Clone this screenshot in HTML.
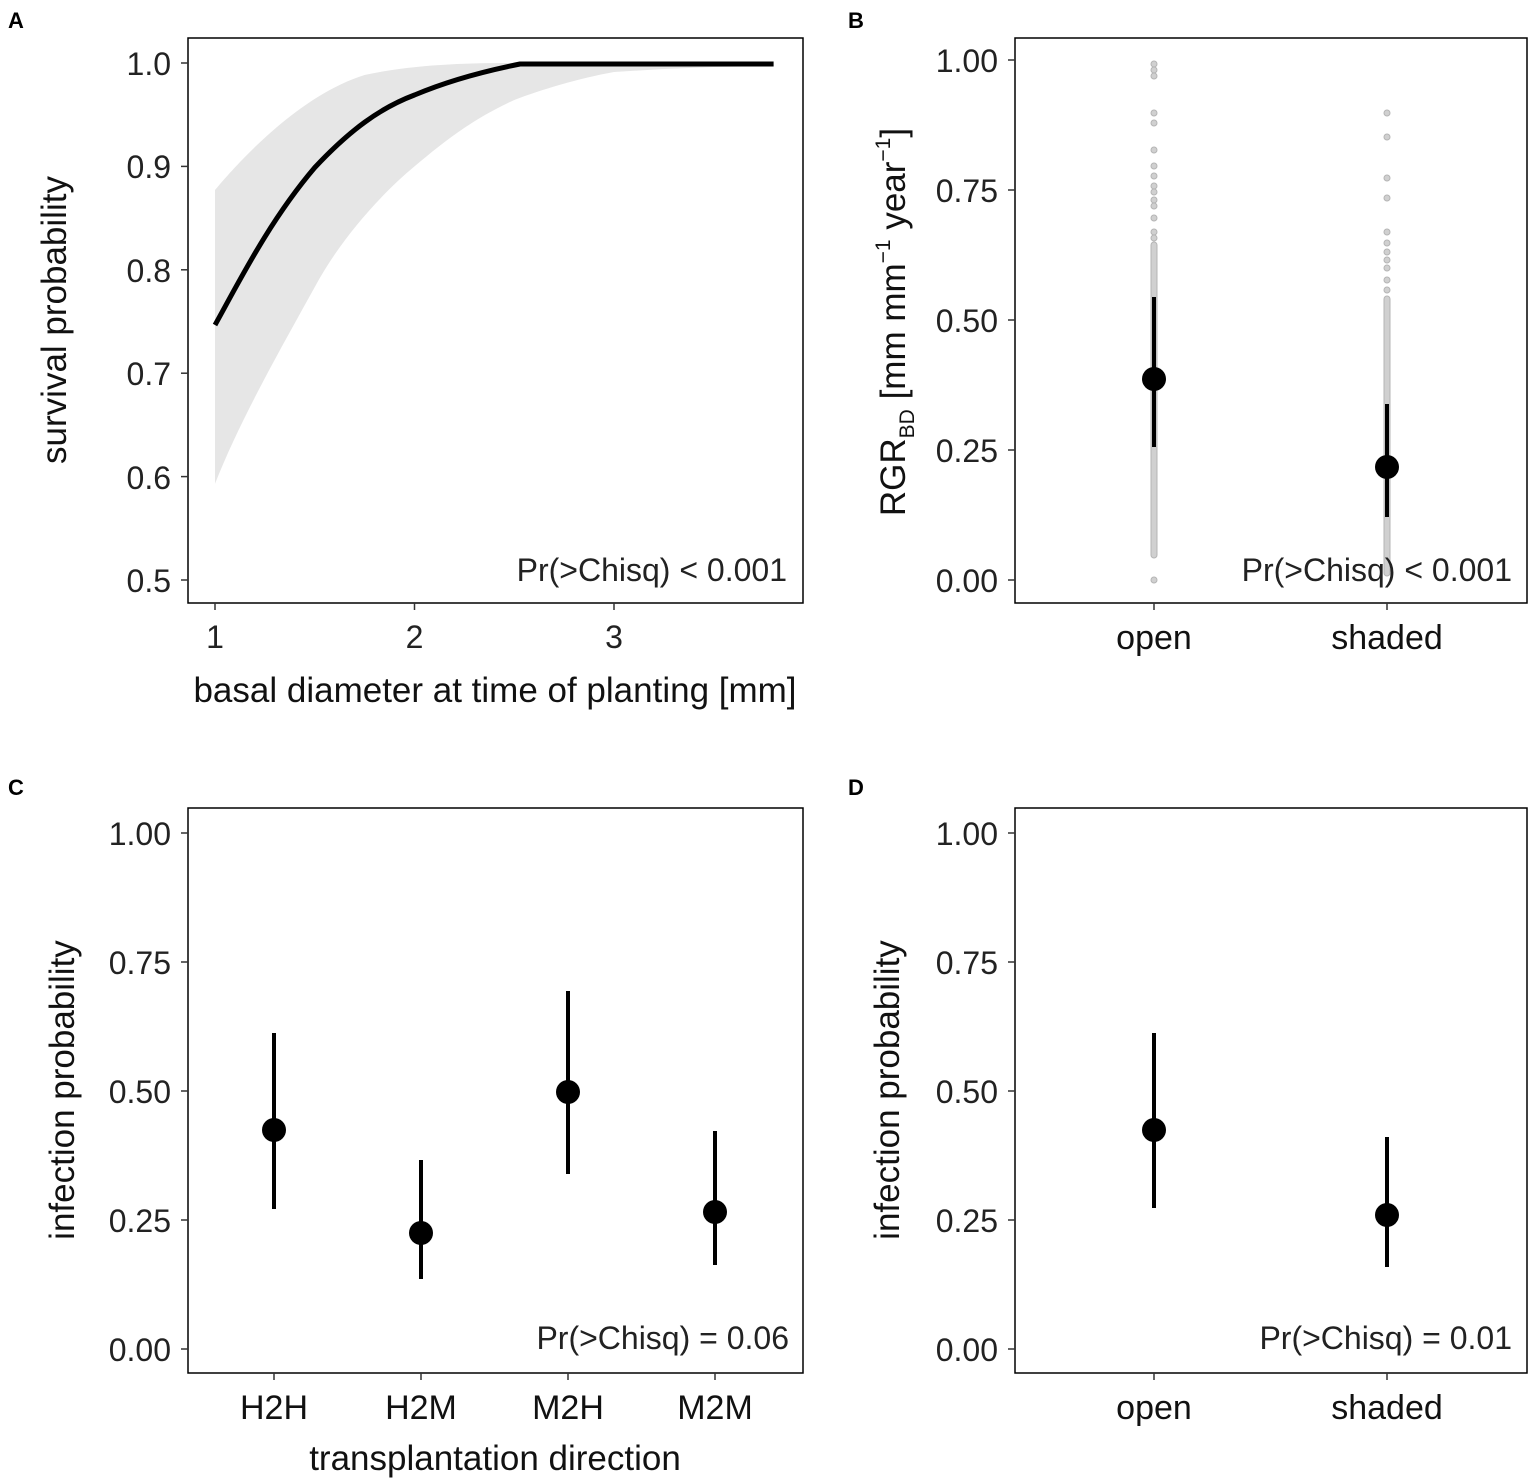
<!DOCTYPE html>
<html><head><meta charset="utf-8"><style>
html,body{margin:0;padding:0;background:#fff;}
svg{display:block;font-family:"Liberation Sans",Arial,sans-serif;}
.t{font-size:32px;fill:#222;}
.c{font-size:34px;fill:#111;}
.ti{font-size:35px;fill:#111;}
.L{font-size:22px;font-weight:bold;fill:#000;}
</style></head><body>
<svg width="1535" height="1483" viewBox="0 0 1535 1483" xmlns="http://www.w3.org/2000/svg">
<rect width="1535" height="1483" fill="#fff"/>
<text class="L" x="8" y="28">A</text>
<text class="L" x="848" y="28">B</text>
<text class="L" x="8" y="795">C</text>
<text class="L" x="848" y="795">D</text>

<!-- Panel A -->
<path d="M215,190 C240,160 300,95 364.6,75 C420,63 480,63 520,63 L773.6,63 L773.6,66 L713.8,67 L663.9,69 L614,72 C580,78 540,90 514.3,100 C470,120 440,145 414.5,166.4 C380,195 340,240 314.8,287 C280,350 240,420 215,483.8 Z" fill="#e6e6e6"/>
<path d="M215,325 C240,280 270,220 314.8,167.5 C350,130 380,108 414.5,95 C450,80 490,70 520,64 L773.6,64" fill="none" stroke="#000" stroke-width="5"/>
<rect x="188" y="38" width="615" height="565" fill="none" stroke="#000" stroke-width="1.5"/>
<g stroke="#333" stroke-width="1.5">
<line x1="181" x2="188" y1="63" y2="63"/><line x1="181" x2="188" y1="166.4" y2="166.4"/><line x1="181" x2="188" y1="269.8" y2="269.8"/><line x1="181" x2="188" y1="373.2" y2="373.2"/><line x1="181" x2="188" y1="476.6" y2="476.6"/><line x1="181" x2="188" y1="580" y2="580"/>
<line x1="215" x2="215" y1="603" y2="610"/><line x1="414.5" x2="414.5" y1="603" y2="610"/><line x1="614" x2="614" y1="603" y2="610"/>
</g>
<g class="t" text-anchor="end">
<text x="171" y="75">1.0</text><text x="171" y="178">0.9</text><text x="171" y="282">0.8</text><text x="171" y="385">0.7</text><text x="171" y="489">0.6</text><text x="171" y="592">0.5</text>
</g>
<g class="t" text-anchor="middle"><text x="215" y="648">1</text><text x="414.5" y="648">2</text><text x="614" y="648">3</text></g>
<text class="t" x="787" y="581" text-anchor="end">Pr(&gt;Chisq) &lt; 0.001</text>
<text class="ti" x="495" y="702" text-anchor="middle">basal diameter at time of planting [mm]</text>
<text class="ti" transform="translate(66,320) rotate(-90)" text-anchor="middle">survival probability</text>

<!-- Panel B -->
<g fill="#d0d0d0" stroke="#b5b5b5" stroke-width="1">
<rect x="1151" y="242" width="6" height="316" rx="3"/>
<rect x="1384" y="296" width="6" height="280" rx="3"/>
<circle cx="1154" cy="580" r="3"/><circle cx="1154" cy="76" r="3"/><circle cx="1154" cy="70" r="3"/><circle cx="1154" cy="64" r="3"/>
<circle cx="1154" cy="113" r="3"/><circle cx="1154" cy="123" r="3"/><circle cx="1154" cy="150" r="3"/><circle cx="1154" cy="166" r="3"/><circle cx="1154" cy="176" r="3"/><circle cx="1154" cy="186" r="3"/><circle cx="1154" cy="192" r="3"/><circle cx="1154" cy="200" r="3"/><circle cx="1154" cy="206" r="3"/><circle cx="1154" cy="218" r="3"/><circle cx="1154" cy="232" r="3"/><circle cx="1154" cy="238" r="3"/>
<circle cx="1387" cy="113" r="3"/><circle cx="1387" cy="137" r="3"/><circle cx="1387" cy="178" r="3"/><circle cx="1387" cy="198" r="3"/><circle cx="1387" cy="232" r="3"/><circle cx="1387" cy="243" r="3"/><circle cx="1387" cy="252" r="3"/><circle cx="1387" cy="260" r="3"/><circle cx="1387" cy="268" r="3"/><circle cx="1387" cy="280" r="3"/><circle cx="1387" cy="290" r="3"/>
</g>
<line x1="1154" x2="1154" y1="297" y2="447" stroke="#000" stroke-width="4"/>
<circle cx="1154" cy="379" r="12" fill="#000"/>
<line x1="1387" x2="1387" y1="404" y2="517" stroke="#000" stroke-width="4"/>
<circle cx="1387" cy="467" r="12" fill="#000"/>
<rect x="1015" y="38" width="512" height="565" fill="none" stroke="#000" stroke-width="1.5"/>
<g stroke="#333" stroke-width="1.5">
<line x1="1008" x2="1015" y1="60" y2="60"/><line x1="1008" x2="1015" y1="190" y2="190"/><line x1="1008" x2="1015" y1="320" y2="320"/><line x1="1008" x2="1015" y1="450" y2="450"/><line x1="1008" x2="1015" y1="580" y2="580"/>
<line x1="1154" x2="1154" y1="603" y2="610"/><line x1="1387" x2="1387" y1="603" y2="610"/>
</g>
<g class="t" text-anchor="end">
<text x="998" y="72">1.00</text><text x="998" y="202">0.75</text><text x="998" y="332">0.50</text><text x="998" y="462">0.25</text><text x="998" y="592">0.00</text>
</g>
<g class="c" text-anchor="middle"><text x="1154" y="649">open</text><text x="1387" y="649">shaded</text></g>
<text class="t" x="1512" y="581" text-anchor="end">Pr(&gt;Chisq) &lt; 0.001</text>
<text class="ti" transform="translate(905,322) rotate(-90)" text-anchor="middle">RGR<tspan font-size="21" dy="9">BD</tspan><tspan dy="-9"> [mm mm</tspan><tspan font-size="21" dy="-15">−1</tspan><tspan dy="15"> year</tspan><tspan font-size="21" dy="-15">−1</tspan><tspan dy="15">]</tspan></text>

<!-- Panel C -->
<g stroke="#000" stroke-width="4">
<line x1="274" x2="274" y1="1033" y2="1209"/><line x1="421" x2="421" y1="1160" y2="1279"/><line x1="568" x2="568" y1="991" y2="1174"/><line x1="715" x2="715" y1="1131" y2="1265"/>
</g>
<g fill="#000"><circle cx="274" cy="1130" r="12"/><circle cx="421" cy="1233" r="12"/><circle cx="568" cy="1092" r="12"/><circle cx="715" cy="1212" r="12"/></g>
<rect x="188" y="808" width="615" height="565" fill="none" stroke="#000" stroke-width="1.5"/>
<g stroke="#333" stroke-width="1.5">
<line x1="181" x2="188" y1="833" y2="833"/><line x1="181" x2="188" y1="962" y2="962"/><line x1="181" x2="188" y1="1091" y2="1091"/><line x1="181" x2="188" y1="1220" y2="1220"/><line x1="181" x2="188" y1="1349" y2="1349"/>
<line x1="274" x2="274" y1="1373" y2="1380"/><line x1="421" x2="421" y1="1373" y2="1380"/><line x1="568" x2="568" y1="1373" y2="1380"/><line x1="715" x2="715" y1="1373" y2="1380"/>
</g>
<g class="t" text-anchor="end">
<text x="171" y="845">1.00</text><text x="171" y="974">0.75</text><text x="171" y="1103">0.50</text><text x="171" y="1232">0.25</text><text x="171" y="1361">0.00</text>
</g>
<g class="c" text-anchor="middle"><text x="274" y="1419">H2H</text><text x="421" y="1419">H2M</text><text x="568" y="1419">M2H</text><text x="715" y="1419">M2M</text></g>
<text class="t" x="789" y="1349" text-anchor="end">Pr(&gt;Chisq) = 0.06</text>
<text class="ti" x="495" y="1470" text-anchor="middle">transplantation direction</text>
<text class="ti" transform="translate(74,1090) rotate(-90)" text-anchor="middle">infection probability</text>

<!-- Panel D -->
<g stroke="#000" stroke-width="4">
<line x1="1154" x2="1154" y1="1033" y2="1208"/><line x1="1387" x2="1387" y1="1137" y2="1267"/>
</g>
<g fill="#000"><circle cx="1154" cy="1130" r="12"/><circle cx="1387" cy="1215" r="12"/></g>
<rect x="1015" y="808" width="512" height="565" fill="none" stroke="#000" stroke-width="1.5"/>
<g stroke="#333" stroke-width="1.5">
<line x1="1008" x2="1015" y1="833" y2="833"/><line x1="1008" x2="1015" y1="962" y2="962"/><line x1="1008" x2="1015" y1="1091" y2="1091"/><line x1="1008" x2="1015" y1="1220" y2="1220"/><line x1="1008" x2="1015" y1="1349" y2="1349"/>
<line x1="1154" x2="1154" y1="1373" y2="1380"/><line x1="1387" x2="1387" y1="1373" y2="1380"/>
</g>
<g class="t" text-anchor="end">
<text x="998" y="845">1.00</text><text x="998" y="974">0.75</text><text x="998" y="1103">0.50</text><text x="998" y="1232">0.25</text><text x="998" y="1361">0.00</text>
</g>
<g class="c" text-anchor="middle"><text x="1154" y="1419">open</text><text x="1387" y="1419">shaded</text></g>
<text class="t" x="1512" y="1349" text-anchor="end">Pr(&gt;Chisq) = 0.01</text>
<text class="ti" transform="translate(899,1090) rotate(-90)" text-anchor="middle">infection probability</text>
</svg>
</body></html>
